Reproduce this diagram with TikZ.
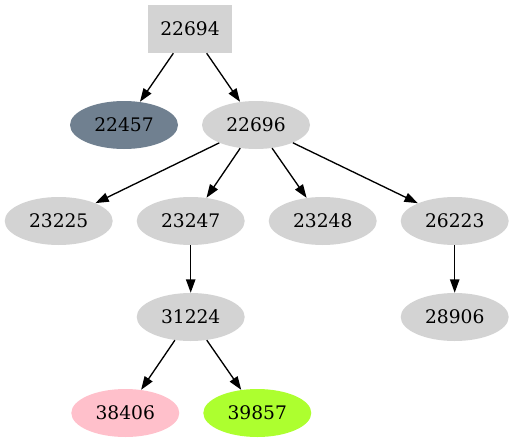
\documentclass[tikz,border=0pt]{standalone}
\usepackage{fontspec}
\setmainfont{DejaVu Serif}
\usetikzlibrary{arrows.meta,shapes.geometric}
\definecolor{lgray}{HTML}{D3D3D3}
\definecolor{slgray}{HTML}{708090}
\definecolor{pinkc}{HTML}{FFC0CB}
\definecolor{gyellow}{HTML}{ADFF2F}
\tikzset{
  el/.style={ellipse, fill=lgray, draw=none, minimum width=81pt, minimum height=36pt, inner sep=0pt, font=\fontsize{14}{16}\selectfont},
  bx/.style={rectangle, fill=lgray, draw=none, minimum width=63pt, minimum height=36pt, inner sep=0pt, font=\fontsize{14}{16}\selectfont},
  edge/.style={draw=black, line width=1pt, -{Triangle[length=10pt,width=7pt]}}
}
\begin{document}
\begin{tikzpicture}[x=0.75pt,y=-0.75pt]
\useasboundingbox (0,0) rectangle (514,443);
\node[bx] (n22694) at (190,29) {22694};
\node[el, fill=slgray] (n22457) at (124,125) {22457};
\node[el] (n22696) at (256,125) {22696};
\node[el] (n23225) at (58.7,221) {23225};
\node[el] (n23247) at (190.7,221) {23247};
\node[el] (n23248) at (322.7,221) {23248};
\node[el] (n26223) at (454.7,221) {26223};
\node[el] (n31224) at (190.7,317) {31224};
\node[el] (n28906) at (454.7,317) {28906};
\node[el, fill=pinkc] (n38406) at (125.3,413) {38406};
\node[el, fill=gyellow] (n39857) at (257.3,413) {39857};
\draw[edge] (n22694) -- (n22457);
\draw[edge] (n22694) -- (n22696);
\draw[edge] (n22696) -- (n23225);
\draw[edge] (n22696) -- (n23247);
\draw[edge] (n22696) -- (n23248);
\draw[edge] (n22696) -- (n26223);
\draw[edge] (n23247) -- (n31224);
\draw[edge] (n26223) -- (n28906);
\draw[edge] (n31224) -- (n38406);
\draw[edge] (n31224) -- (n39857);
\end{tikzpicture}
\end{document}
